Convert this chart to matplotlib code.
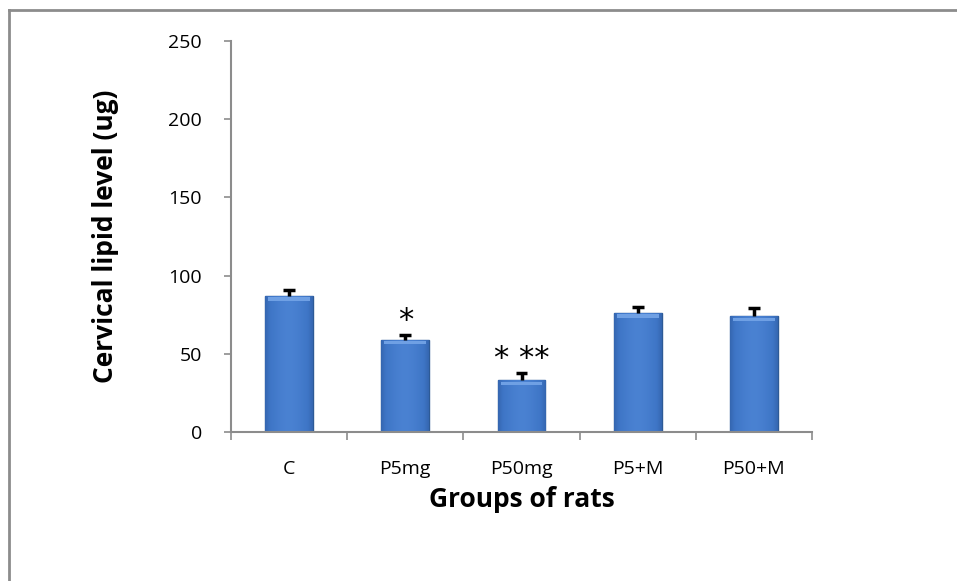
import numpy as np
import matplotlib
matplotlib.use('Agg')
import matplotlib.pyplot as plt
from matplotlib.patches import Rectangle
from matplotlib.lines import Line2D

plt.rcParams['font.family'] = ['Open Sans', 'DejaVu Sans']

groups = ['C', 'P5mg', 'P50mg', 'P5+M', 'P50+M']
lipid = [87, 59, 33, 76, 74]
err = [4, 3, 5, 4, 5]
stars = ['', '*', '* **', '', '']

fig = plt.figure(figsize=(9.57, 5.81), dpi=100)
ax = fig.add_axes([231 / 957, 149 / 581, 581 / 957, 391 / 581])

x = np.arange(len(groups))
bars = ax.bar(x, lipid, width=0.41, color='#3C72C2', edgecolor='#2D5A96',
              linewidth=1.0, zorder=2)

# horizontal shading inside each bar (dark edges, lighter middle)
grad = np.linspace(0, 1, 64)
shade = 1 - 0.55 * np.abs(grad - 0.5) ** 1.5 * 2
cmap = matplotlib.colors.LinearSegmentedColormap.from_list(
    'bar', ['#2A5494', '#3E75C6', '#4A82D2'])
for b in bars:
    bx, by = b.get_x(), b.get_y()
    bw, bh = b.get_width(), b.get_height()
    im = ax.imshow(shade[np.newaxis, :], cmap=cmap, aspect='auto',
                   extent=[bx, bx + bw, by, by + bh], zorder=2.5,
                   vmin=0.45, vmax=1.0)
    im.set_clip_path(b)
    # light top band
    ax.add_patch(Rectangle((bx + bw * 0.06, by + bh - 3.0), bw * 0.88, 2.2,
                           color='#6FA0E4', lw=0, zorder=2.6))

# upper error bars only
tops = [v + e for v, e in zip(lipid, err)]
ax.vlines(x, lipid, tops, color='black', lw=2.5, zorder=3)
ax.hlines(tops, x - 0.05, x + 0.05, color='black', lw=2.5, zorder=3)

for xi, t, s in zip(x, tops, stars):
    if s:
        ax.text(xi, t + 9, s, ha='center', va='center', fontsize=22,
                family='DejaVu Sans', zorder=4)

ax.set_xlim(-0.5, len(groups) - 0.5)
ax.set_ylim(0, 250)
ax.set_yticks(range(0, 251, 50))
ax.set_xticks(x)
ax.set_xticklabels(groups)
ax.set_xticks(np.arange(-0.5, len(groups), 1), minor=True)
ax.tick_params(axis='x', which='major', length=0, pad=20, labelsize=14)
ax.tick_params(axis='x', which='minor', length=6, width=1.2, color='#8C8C8C')
ax.tick_params(axis='y', length=5, width=1.2, color='#8C8C8C', pad=16,
               labelsize=14)

for side in ['top', 'right']:
    ax.spines[side].set_visible(False)
for side in ['left', 'bottom']:
    ax.spines[side].set_color('#8C8C8C')
    ax.spines[side].set_linewidth(1.5)

ax.set_ylabel('Cervical lipid level (ug)', fontsize=19, fontweight='bold',
              labelpad=35)
ax.set_xlabel('Groups of rats', fontsize=19, fontweight='bold', labelpad=6)

# outer chart frame (cut off at right and bottom)
fig.add_artist(Line2D([9 / 957, 9 / 957], [0, 1 - 10 / 581],
                      transform=fig.transFigure, color='#8C8C8C', lw=2))
fig.add_artist(Line2D([9 / 957, 1], [1 - 10 / 581, 1 - 10 / 581],
                      transform=fig.transFigure, color='#8C8C8C', lw=2))

fig.savefig('out.png', dpi=100)
